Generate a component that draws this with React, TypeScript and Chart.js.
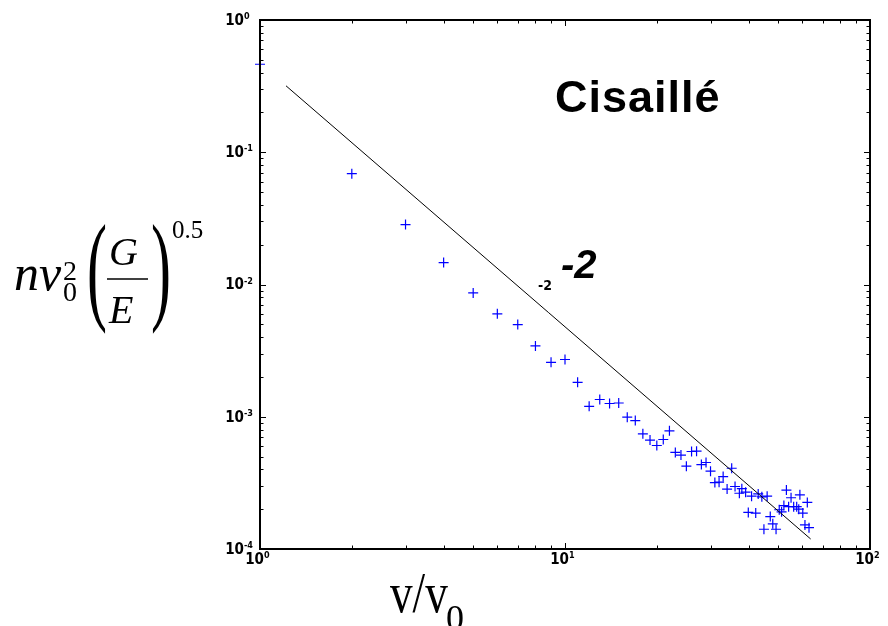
import React, { useEffect, useRef } from "react";
import { Chart, registerables } from "chart.js";

Chart.register(...registerables);

// Measured points (v/v0, n v0^2 (G/E)^0.5)
const ptX = [
  1, 2, 3, 4, 5, 6, 7, 8, 9, 10, 11, 12, 13, 14, 15, 16, 17, 18, 19, 20, 21, 22,
  23, 24, 25, 26, 27, 28, 29, 30, 31, 32, 33, 34, 35.2, 36.1, 37.3, 38, 39.1,
  39.9, 40.9, 42.2, 43, 44.2, 44.9, 46, 47.1, 48, 49.2, 50.4, 51.3, 52.2, 53.2,
  54.1, 55.1, 56.2, 57.5, 58.4, 58.9, 60.2, 61.2, 62.3, 63.1,
];
const ptY = [
  0.463, 0.0689, 0.0284, 0.01465, 0.00864, 0.006, 0.00498, 0.00343, 0.00258,
  0.00271, 0.00182, 0.0012, 0.00135, 0.00126, 0.00127, 0.000993, 0.000936,
  0.000743, 0.000666, 0.000606, 0.000673, 0.000782, 0.000537, 0.000513,
  0.000423, 0.000546, 0.000549, 0.000435, 0.000451, 0.000388, 0.000318,
  0.00032, 0.000353, 0.000284, 0.000408, 0.000297, 0.000264, 0.000286,
  0.000269, 0.000189, 0.000251, 0.000187, 0.000261, 0.000248, 0.000141,
  0.000251, 0.000176, 0.000155, 0.000141, 0.000198, 0.000191, 0.000213,
  0.000279, 0.000209, 0.000244, 0.000209, 0.000209, 0.0002, 0.000257,
  0.000187, 0.000152, 0.000225, 0.000145,
];

// slope -2 reference line end points
const fitX = [1.217, 63.9];
const fitY = [0.318, 0.000119];

// decade ticks
const xDecades = [0, 1, 2];
const yDecades = [-4, -3, -2, -1, 0];

const TICK_FONT = '"Liberation Sans Narrow", "DejaVu Sans Condensed", Arial, sans-serif';
const SERIF = '"Liberation Serif", "Times New Roman", serif';
const SANS = '"Liberation Sans", Arial, sans-serif';

const framePlugin = {
  id: "frame",
  afterDraw(chart: any) {
    const ctx = chart.ctx as CanvasRenderingContext2D;
    const xs = chart.scales.x;
    const ys = chart.scales.y;
    const { left, right, top, bottom } = chart.chartArea;
    ctx.save();
    ctx.strokeStyle = "#000";
    ctx.lineWidth = 2;
    ctx.strokeRect(left, top, right - left, bottom - top);

    ctx.lineWidth = 1;
    const major = 6;
    const minor = 3.5;
    // x ticks
    for (let d = 0; d < 2; d++) {
      for (let m = 1; m <= 10; m++) {
        const v = m * Math.pow(10, d);
        const px = Math.round(xs.getPixelForValue(v)) + 0.5;
        const len = m === 1 || m === 10 ? major : minor;
        ctx.beginPath();
        ctx.moveTo(px, bottom);
        ctx.lineTo(px, bottom - len);
        ctx.moveTo(px, top);
        ctx.lineTo(px, top + len);
        ctx.stroke();
      }
    }
    // y ticks
    for (let d = -4; d < 0; d++) {
      for (let m = 1; m <= 10; m++) {
        const v = m * Math.pow(10, d);
        const py = Math.round(ys.getPixelForValue(v)) + 0.5;
        const len = m === 1 || m === 10 ? major : minor;
        ctx.beginPath();
        ctx.moveTo(left, py);
        ctx.lineTo(left + len, py);
        ctx.moveTo(right, py);
        ctx.lineTo(right - len, py);
        ctx.stroke();
      }
    }

    // tick labels
    ctx.fillStyle = "#000";
    yDecades.forEach((e) => {
      const py = ys.getPixelForValue(Math.pow(10, e));
      ctx.font = `bold 15px ${TICK_FONT}`;
      ctx.textAlign = "right";
      ctx.textBaseline = "middle";
      ctx.fillText("10", 244, py + 1);
      ctx.font = `bold 9px ${TICK_FONT}`;
      ctx.textAlign = "left";
      ctx.textBaseline = "alphabetic";
      ctx.fillText(String(e), 244, py - 1);
    });
    xDecades.forEach((e) => {
      const px = xs.getPixelForValue(Math.pow(10, e));
      ctx.font = `bold 15px ${TICK_FONT}`;
      ctx.textAlign = "right";
      ctx.textBaseline = "alphabetic";
      ctx.fillText("10", px + 4, bottom + 15);
      ctx.font = `bold 9px ${TICK_FONT}`;
      ctx.textAlign = "left";
      ctx.fillText(String(e), px + 4, bottom + 9);
    });

    // y axis formula
    ctx.textAlign = "left";
    ctx.textBaseline = "alphabetic";
    ctx.font = `italic 50px ${SERIF}`;
    ctx.fillText("nv", 14, 290);
    ctx.font = `28px ${SERIF}`;
    ctx.fillText("2", 63, 280);
    ctx.fillText("0", 63, 301);
    ctx.save();
    ctx.font = `120px ${SERIF}`;
    ctx.translate(87, 308);
    ctx.scale(0.5, 1);
    ctx.fillText("(", 0, 0);
    ctx.restore();
    ctx.font = `italic 40px ${SERIF}`;
    ctx.fillText("G", 109, 265);
    ctx.fillText("E", 109, 323);
    ctx.lineWidth = 1.6;
    ctx.beginPath();
    ctx.moveTo(107, 279);
    ctx.lineTo(148, 279);
    ctx.stroke();
    ctx.save();
    ctx.font = `120px ${SERIF}`;
    ctx.translate(151, 308);
    ctx.scale(0.5, 1);
    ctx.fillText(")", 0, 0);
    ctx.restore();
    ctx.font = `25px ${SERIF}`;
    ctx.fillText("0.5", 172, 238);

    // x axis label
    ctx.save();
    ctx.font = `58px ${SERIF}`;
    ctx.translate(390, 612);
    ctx.scale(0.78, 1);
    ctx.fillText("v/v", 0, 0);
    ctx.restore();
    ctx.font = `36px ${SERIF}`;
    ctx.fillText("0", 446, 630);

    // annotations
    ctx.font = `bold 45px ${SANS}`;
    (ctx as any).letterSpacing = "1px";
    ctx.fillText("Cisaillé", 555, 112);
    (ctx as any).letterSpacing = "0px";
    ctx.font = `italic bold 40px ${SANS}`;
    ctx.fillText("-2", 561, 278);
    ctx.font = `bold 14px ${TICK_FONT}`;
    ctx.fillText("-2", 538, 290);
    ctx.restore();
  },
};

export default function App() {
  const ref = useRef<HTMLCanvasElement | null>(null);
  useEffect(() => {
    if (!ref.current) return;
    const chart = new Chart(ref.current, {
      type: "scatter",
      data: {
        datasets: [
          {
            label: "fit",
            data: fitX.map((x, i) => ({ x, y: fitY[i] })),
            showLine: true,
            borderColor: "#000",
            borderWidth: 1,
            pointRadius: 0,
            fill: false,
          },
          {
            label: "data",
            data: ptX.map((x, i) => ({ x, y: ptY[i] })),
            pointStyle: "cross",
            pointRadius: 5,
            borderColor: "#0000ff",
            backgroundColor: "#0000ff",
            borderWidth: 1.2,
            clip: false as any,
          },
        ],
      },
      options: {
        animation: false,
        responsive: false,
        maintainAspectRatio: false,
        devicePixelRatio: 1,
        layout: { padding: { left: 260, right: 18, top: 20, bottom: 77 } },
        plugins: { legend: { display: false }, tooltip: { enabled: false } },
        scales: {
          x: { type: "logarithmic", min: 1, max: 100, display: false },
          y: { type: "logarithmic", min: 1e-4, max: 1, display: false },
        },
      },
      plugins: [framePlugin],
    });
    return () => chart.destroy();
  }, []);
  return (
    <div style={{ position: "fixed", left: 0, top: 0, width: 888, height: 626, background: "#fff" }}>
      <canvas ref={ref} width={888} height={626} style={{ display: "block" }} />
    </div>
  );
}
